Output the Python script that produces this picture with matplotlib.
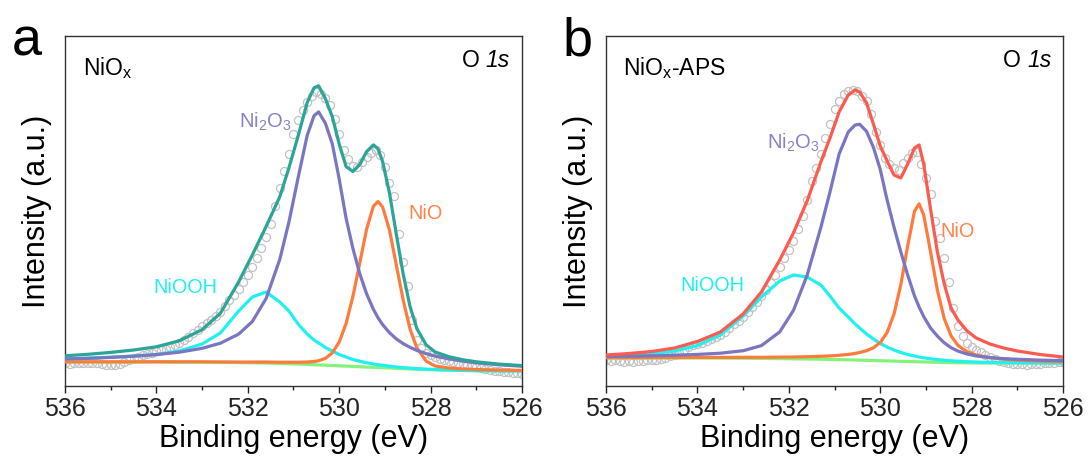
import matplotlib
matplotlib.use('Agg')
import matplotlib.pyplot as plt
from matplotlib.ticker import MultipleLocator

plt.rcParams['font.family'] = ['Liberation Sans', 'DejaVu Sans']
plt.rcParams['mathtext.fontset'] = 'custom'
plt.rcParams['mathtext.rm'] = 'Liberation Sans'
plt.rcParams['mathtext.it'] = 'Liberation Sans:italic'

# binding energy grid of the fitted curves (eV)
energy_fit = [536, 535.5, 535, 534.5, 534, 533.5, 533, 532.6, 532.2, 531.9, 531.6, 531.3,
              531.1, 530.9, 530.7, 530.55, 530.45, 530.3, 530.15, 530.0, 529.85, 529.7,
              529.55, 529.4, 529.25, 529.15, 529.05, 528.9, 528.75, 528.6, 528.45, 528.3,
              528.1, 527.9, 527.6, 527.3, 527.0, 526.5, 526.0]

# measured points, 0.1 eV step
energy_data = [536.0, 535.9, 535.8, 535.7, 535.6, 535.5, 535.4, 535.3, 535.2, 535.1,
               535.0, 534.9, 534.8, 534.7, 534.6, 534.5, 534.4, 534.3, 534.2, 534.1,
               534.0, 533.9, 533.8, 533.7, 533.6, 533.5, 533.4, 533.3, 533.2, 533.1,
               533.0, 532.9, 532.8, 532.7, 532.6, 532.5, 532.4, 532.3, 532.2, 532.1,
               532.0, 531.9, 531.8, 531.7, 531.6, 531.5, 531.4, 531.3, 531.2, 531.1,
               531.0, 530.9, 530.8, 530.7, 530.6, 530.5, 530.4, 530.3, 530.2, 530.1,
               530.0, 529.9, 529.8, 529.7, 529.6, 529.5, 529.4, 529.3, 529.2, 529.1,
               529.0, 528.9, 528.8, 528.7, 528.6, 528.5, 528.4, 528.3, 528.2, 528.1,
               528.0, 527.9, 527.8, 527.7, 527.6, 527.5, 527.4, 527.3, 527.2, 527.1,
               527.0, 526.9, 526.8, 526.7, 526.6, 526.5, 526.4, 526.3, 526.2, 526.1,
               526.0]

# ---- panel a : NiOx ----
a_data = [23, 22.5, 23, 23.5, 23, 23.5, 23.5, 23, 22, 21.5,
          21, 21, 22, 24, 26, 28, 29.5, 31, 32.5, 33.5,
          35, 36, 37.5, 39, 41, 43.5, 46, 49.5, 53, 56,
          60, 63, 66, 70, 74, 80, 86, 91, 97, 104,
          111, 119, 128, 138, 149, 162, 180, 198, 215, 232,
          252, 266, 276, 284, 290, 294, 292, 288, 281, 267,
          252, 236, 227, 220, 219, 224, 229, 233, 236, 231,
          219, 203, 190, 152, 124, 100, 66, 46, 38, 33,
          31, 29, 27.5, 26, 25, 24, 23, 22, 21, 20,
          19, 18, 17, 16, 15.5, 15, 14.5, 14, 13.5, 13,
          12.5]
a_baseline = [24, 24, 24, 24, 24, 23.9, 23.8, 23.6, 23.4, 23.2, 23, 22.6, 22.3, 22, 21.6,
              21.3, 21.1, 20.8, 20.5, 20.2, 19.9, 19.6, 19.3, 19, 18.7, 18.5, 18.3, 18,
              17.7, 17.4, 17.1, 16.8, 16.5, 16.2, 15.9, 15.6, 15.4, 15.2, 15]
a_nio = [24.1, 24.2, 24.2, 24.2, 24.3, 24.2, 24.2, 24.1, 24.0, 24.0, 24.0, 23.8, 23.8, 23.8,
         24.0, 24.5, 25.3, 27.7, 33.2, 43.9, 62.4, 89.6, 123, 157, 180, 184.5, 179, 156,
         121, 86, 57, 38, 25, 20, 18, 17, 16.5, 16, 15.6]
a_ni2o3 = [27.1, 27.7, 28.6, 29.8, 31.4, 33.8, 37.7, 42.8, 51.9, 64.5, 87.4, 126.6, 163.9,
           208, 250.6, 270.3, 274.1, 262.5, 242, 207, 167.9, 137.6, 112.3, 92.1, 76.5, 68.2,
           61.4, 53.3, 47.1, 42.4, 38.7, 35.6, 32.4, 29.9, 27.1, 24.9, 23.2, 21.2, 19.8]
a_niooh = [27, 27.8, 28.8, 30, 31.5, 35, 42, 53, 75, 89, 94, 84, 75, 62, 52, 46, 43, 38.5,
           35, 31.5, 29, 26.5, 24.8, 23.3, 22, 21.3, 20.7, 19.8, 19, 18.4, 17.9, 17.4, 16.9,
           16.5, 16, 15.6, 15.3, 15.1, 15]
a_envelope = [30.2, 31.7, 33.6, 36, 39.2, 45.2, 56.3, 72.7, 104.1, 131.1, 159.4, 189.2,
              218.1, 249.8, 283.4, 298.2, 300.2, 287.1, 269.2, 242, 219.5, 214.5, 221.5,
              234.4, 241.1, 237, 224.5, 193.1, 151.7, 112, 79.4, 57.4, 41.3, 34, 29.3, 26.3,
              24.2, 21.9, 20.4]

# ---- panel b : NiOx-APS ----
b_data = [26, 25.5, 26, 25, 24.5, 25, 24.5, 25, 25.5, 26,
          26, 26.5, 27, 28, 30, 31.5, 33, 36, 39, 41,
          42, 43.5, 45, 47, 49, 51, 54, 58, 62, 65,
          69, 74, 79, 84, 90, 96, 103, 111, 119, 128,
          136, 145, 157, 170, 186, 205, 218, 232, 248, 262,
          277, 285, 292, 295, 296, 295, 290, 285, 272, 254,
          241, 228, 222, 218, 216, 223, 228, 233, 234, 222,
          208, 192, 165, 148, 128, 104, 78, 60, 50, 43,
          39, 36, 34, 31.5, 29, 27, 25, 24, 23, 22.5,
          22, 22, 21.5, 22, 22, 22.5, 23, 23, 23.5, 24,
          24]
b_baseline = [28, 28, 28, 28, 28, 27.9, 27.8, 27.6, 27.4, 27.2, 27, 26.8, 26.6, 26.4, 26.2,
              26, 25.9, 25.7, 25.5, 25.3, 25.1, 24.9, 24.7, 24.5, 24.3, 24.2, 24.1, 23.9,
              23.7, 23.5, 23.4, 23.3, 23.2, 23.1, 23, 23, 23, 23, 23]
b_nio = [28.3, 28.3, 28.4, 28.5, 28.6, 28.6, 28.7, 28.7, 28.9, 29, 29.3, 29.7, 30.1, 30.7,
         31.6, 32.6, 33.5, 35.3, 38.2, 43.5, 53.6, 71.9, 101.3, 140.1, 174.9, 182.2, 171.2,
         134.2, 95.7, 67.4, 50.1, 40.6, 34.3, 31, 28.3, 26.8, 25.9, 24.9, 24.4]
b_ni2o3 = [29.5, 29.8, 30.2, 30.8, 31.6, 32.8, 35.3, 40.4, 54.1, 75.6, 110.7, 158.6, 194,
           232, 254, 261, 261.7, 254.6, 238.7, 216.5, 186, 159, 134, 111, 90, 79, 69.5, 58,
           49.9, 43.2, 38.3, 34.9, 32, 30.1, 28.4, 27.4, 26.7, 25.9, 25.3]
b_niooh = [29.5, 31, 32.4, 34.9, 40.5, 51, 70, 89, 105, 111, 109, 101, 90, 78, 69, 62, 58,
           52, 47, 42.5, 39, 36, 33.5, 31.5, 30, 29, 28.2, 27.2, 26.4, 25.8, 25.2, 24.8,
           24.3, 24, 23.6, 23.4, 23.2, 23.1, 23]
b_envelope = [31, 32.5, 34.5, 38, 44.5, 54, 72, 94, 126, 153, 185, 224, 248, 274, 291, 296,
              294, 283, 262, 240, 225, 211, 208, 222, 238, 241, 222, 177, 134, 102, 78, 66,
              55, 48, 42, 38, 35, 31.5, 29]

x_ticks = [536, 534, 532, 530, 528, 526]

c_data = '#c2c2c2'
c_base = '#86f27c'
c_niooh = '#20f0f0'
c_ni2o3 = '#7a76c2'
c_nio = '#ff7b3d'
c_env_a = '#2aa597'
c_env_b = '#fb5b50'
lw = 2.3

fig = plt.figure(figsize=(10.88, 4.59), dpi=100)
ax_a = fig.add_axes([0.0597, 0.159, 0.4201, 0.7626])
ax_b = fig.add_axes([0.557, 0.159, 0.4201, 0.7626])

panels = [
    (ax_a, a_data, a_baseline, a_niooh, a_ni2o3, a_nio, a_envelope, c_env_a),
    (ax_b, b_data, b_baseline, b_niooh, b_ni2o3, b_nio, b_envelope, c_env_b),
]

for ax, data, base, niooh, ni2o3, nio, env, c_env in panels:
    ax.plot(energy_data, data, 'o', ms=5.8, mfc='none', mec=c_data, mew=0.9, zorder=1)
    ax.plot(energy_fit, base, color=c_base, lw=lw, zorder=2)
    ax.plot(energy_fit, niooh, color=c_niooh, lw=lw, zorder=3)
    ax.plot(energy_fit, nio, color=c_nio, lw=lw, zorder=4)
    ax.plot(energy_fit, ni2o3, color=c_ni2o3, lw=lw, zorder=5)
    ax.plot(energy_fit, env, color=c_env, lw=lw, zorder=6)

    ax.set_xlim(536, 526)
    ax.set_ylim(0, 350)
    ax.set_xticks(x_ticks)
    ax.xaxis.set_minor_locator(MultipleLocator(1))
    ax.set_yticks([])
    ax.tick_params(axis='x', which='major', direction='out', length=5, width=1,
                   labelsize=18, pad=3, colors='#222222')
    ax.tick_params(axis='x', which='minor', direction='out', length=3, width=1,
                   colors='#222222')
    for sp in ax.spines.values():
        sp.set_linewidth(1.0)
        sp.set_color('#333333')
    ax.set_xlabel('Binding energy (eV)', fontsize=22, labelpad=2)
    ax.set_ylabel('Intensity (a.u.)', fontsize=22)
    ax.yaxis.set_label_coords(-0.028, 0.5)

    # "O 1s" with the orbital in italics
    t1s = ax.text(0.974, 0.911, '1s', transform=ax.transAxes, ha='right',
                  va='baseline', fontsize=16.5, style='italic')
    ax.annotate('O', xy=(0, 0), xycoords=t1s, xytext=(-4.5, 0),
                textcoords='offset points', ha='right', va='bottom', fontsize=16.5)

ax_a.text(0.039, 0.889, r'NiO$_\mathregular{x}$', transform=ax_a.transAxes,
          ha='left', va='baseline', fontsize=16.5)
ax_b.text(0.037, 0.889, r'NiO$_\mathregular{x}$-APS', transform=ax_b.transAxes,
          ha='left', va='baseline', fontsize=16.5)

ax_a.text(531.62, 264, r'Ni$_\mathregular{2}$O$_\mathregular{3}$', color='#8682cc',
          fontsize=14.5, ha='center', va='center')
ax_a.text(528.12, 173, 'NiO', color='#ff8448', fontsize=14.3, ha='center', va='center')
ax_a.text(533.37, 99, 'NiOOH', color=c_niooh, fontsize=14.3, ha='center', va='center')

ax_b.text(531.91, 243, r'Ni$_\mathregular{2}$O$_\mathregular{3}$', color='#8682cc',
          fontsize=14.5, ha='center', va='center')
ax_b.text(528.30, 155, 'NiO', color='#ff8448', fontsize=14.3, ha='center', va='center')
ax_b.text(533.68, 101, 'NiOOH', color=c_niooh, fontsize=14.3, ha='center', va='center')

fig.text(12 / 1088, 1 - 55 / 459, 'a', fontsize=39, ha='left', va='baseline')
fig.text(563 / 1088, 1 - 56 / 459, 'b', fontsize=39, ha='left', va='baseline')

fig.savefig('out.png', dpi=100)
